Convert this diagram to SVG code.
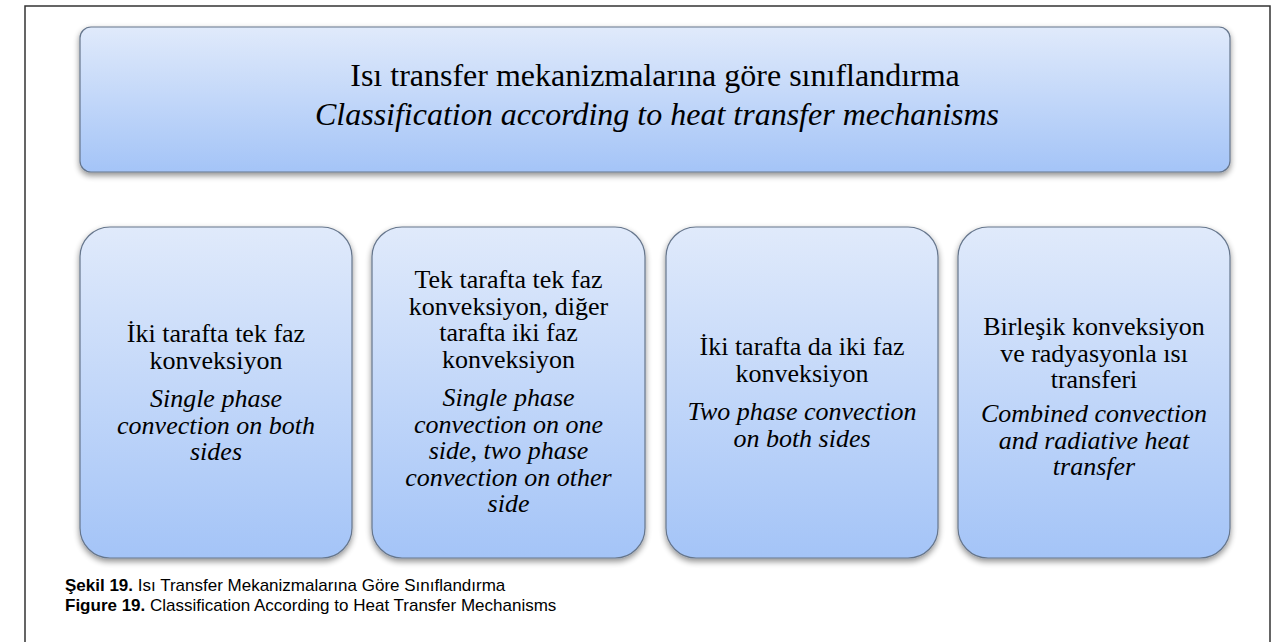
<svg xmlns="http://www.w3.org/2000/svg" width="1277" height="642" viewBox="0 0 1277 642">
<defs>
<linearGradient id="g" x1="0" y1="0" x2="0" y2="1">
<stop offset="0" stop-color="#e0eafb"/>
<stop offset="1" stop-color="#a4c4f7"/>
</linearGradient>
<filter id="sh" x="-5%" y="-5%" width="110%" height="115%">
<feGaussianBlur in="SourceAlpha" stdDeviation="3"/>
<feOffset dx="0" dy="3" result="b"/>
<feComponentTransfer><feFuncA type="linear" slope="0.45"/></feComponentTransfer>
<feMerge><feMergeNode/><feMergeNode in="SourceGraphic"/></feMerge>
</filter>
<style>
.box{fill:url(#g);stroke:#66768c;stroke-width:1.2;filter:url(#sh)}
.t{font-family:"Liberation Serif","Times New Roman",serif;font-size:26px;fill:#000;text-anchor:middle}
.i{font-style:italic}
.title{font-size:32px}
.cap{font-family:"Liberation Sans",Arial,sans-serif;font-size:17px;fill:#000}
.b{font-weight:bold}
</style>
</defs>
<rect width="1277" height="642" fill="#ffffff"/>
<path d="M25,650 V6 H1270 V650" fill="none" stroke="#333" stroke-width="1.5"/>
<g id="connectors"></g>
<g id="top">
<rect class="box" x="80" y="27" width="1150" height="145" rx="11"/>
<text class="t title" x="655" y="86">Isı transfer mekanizmalarına göre sınıflandırma</text>
<text class="t title i" x="657" y="125">Classification according to heat transfer mechanisms</text>
</g>
<g id="n1">
<rect class="box" x="80" y="227" width="272" height="331" rx="30"/>
<text class="t" x="216" y="342">İki tarafta tek faz</text>
<text class="t" x="216" y="368.5">konveksiyon</text>
<text class="t i" x="216" y="407">Single phase</text>
<text class="t i" x="216" y="433.5">convection on both</text>
<text class="t i" x="216" y="460">sides</text>
</g>
<g id="n2">
<rect class="box" x="372" y="227" width="273" height="331" rx="30"/>
<text class="t" x="508.5" y="288">Tek tarafta tek faz</text>
<text class="t" x="508.5" y="314.5">konveksiyon, diğer</text>
<text class="t" x="508.5" y="341">tarafta iki faz</text>
<text class="t" x="508.5" y="367.5">konveksiyon</text>
<text class="t i" x="508.5" y="406">Single phase</text>
<text class="t i" x="508.5" y="432.5">convection on one</text>
<text class="t i" x="508.5" y="459">side, two phase</text>
<text class="t i" x="508.5" y="485.5">convection on other</text>
<text class="t i" x="508.5" y="512">side</text>
</g>
<g id="n3">
<rect class="box" x="666" y="227" width="272" height="331" rx="30"/>
<text class="t" x="802" y="355">İki tarafta da iki faz</text>
<text class="t" x="802" y="382">konveksiyon</text>
<text class="t i" x="802" y="420">Two phase convection</text>
<text class="t i" x="802" y="446.5">on both sides</text>
</g>
<g id="n4">
<rect class="box" x="958" y="227" width="272" height="331" rx="30"/>
<text class="t" x="1094" y="335">Birleşik konveksiyon</text>
<text class="t" x="1094" y="361.5">ve radyasyonla ısı</text>
<text class="t" x="1094" y="388">transferi</text>
<text class="t i" x="1094" y="422">Combined convection</text>
<text class="t i" x="1094" y="448.5">and radiative heat</text>
<text class="t i" x="1094" y="475">transfer</text>
</g>
<g id="caption">
<text class="cap" x="65" y="591"><tspan class="b">Şekil 19.</tspan> Isı Transfer Mekanizmalarına Göre Sınıflandırma</text>
<text class="cap" x="65" y="611"><tspan class="b">Figure 19.</tspan> Classification According to Heat Transfer Mechanisms</text>
</g>
</svg>
